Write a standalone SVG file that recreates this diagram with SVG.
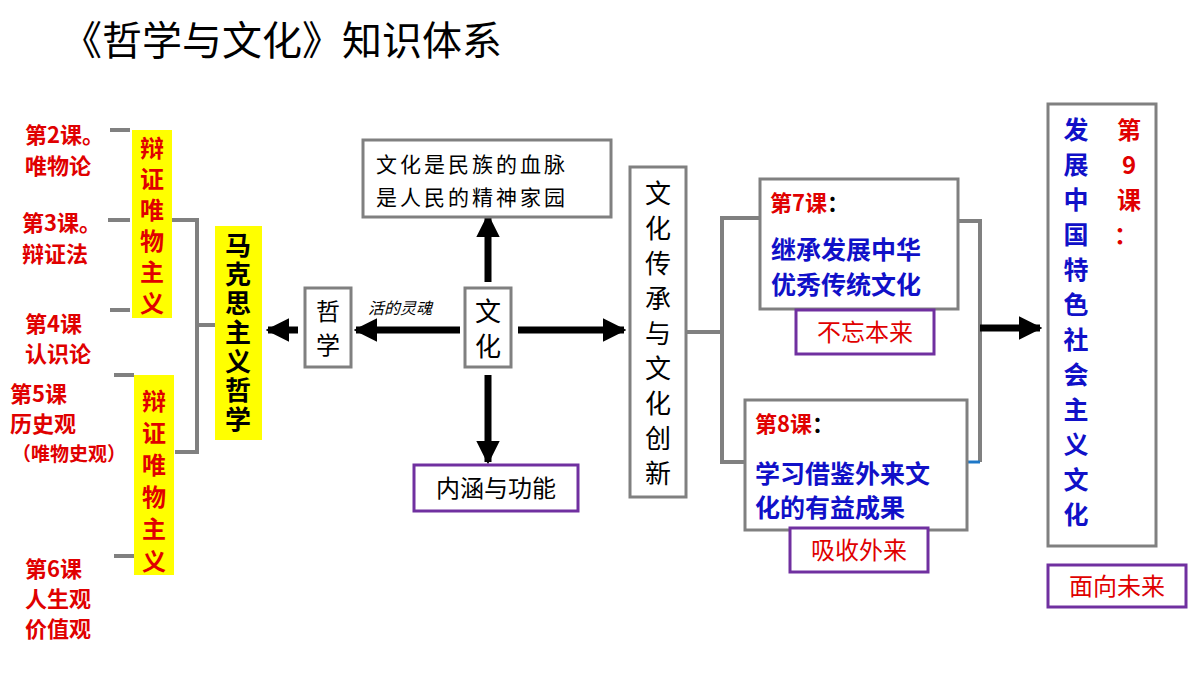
<svg xmlns="http://www.w3.org/2000/svg" width="1200" height="675" viewBox="0 0 1200 675">
<defs>
<style>
.s{font-family:"Noto Sans CJK SC","Liberation Sans",sans-serif}
.r{fill:#e00000;font-weight:bold}
.b{fill:#1010c8;font-weight:bold}
.k{fill:#000}
.box{fill:#fff;stroke:#808080;stroke-width:3}
.pb{fill:#fff;stroke:#7030a0;stroke-width:3}
.y{fill:#ffff00}
.ln{fill:none;stroke:#808080;stroke-width:4}
.ar{stroke:#000;stroke-width:7;fill:none}
</style>
<marker id="ah" viewBox="0 0 10 10" refX="9" refY="5" markerWidth="3.4" markerHeight="3.4" orient="auto"><path d="M0,0L10,5L0,10z" fill="#000"/></marker>
</defs>
<rect width="1200" height="675" fill="#fff"/>
<text x="62" y="55" class="s k" font-size="40">《哲学与文化》知识体系</text>

<g id="connectors">
<path class="ln" d="M110,130H130M108,220H130M110,310H130M114,375H134M114,556H134"/>
<path class="ln" d="M172,220H197V452H175M197,325H217"/>
<path class="ln" d="M686,332H722M760,218H722V462H745"/>
<path class="ln" d="M958,221H980V462"/>
<path d="M965,462H980" stroke="#1e78c8" stroke-width="3"/>
<path class="ar" d="M298,330H268" marker-end="url(#ah)"/>
<path class="ar" d="M460,330H356" marker-end="url(#ah)"/>
<path class="ar" d="M488,282V216" marker-end="url(#ah)"/>
<path class="ar" d="M488,375V462" marker-end="url(#ah)"/>
<path class="ar" d="M518,330H624" marker-end="url(#ah)"/>
<path class="ar" d="M980,328H1040" marker-end="url(#ah)"/>
<text x="368" y="314" font-family="Noto Sans CJK SC,sans-serif" font-size="16" font-style="italic">活的灵魂</text>
</g>

<g id="lessons" class="s r" font-size="22">
<text x="25" y="143">第2课。</text><text x="25" y="174">唯物论</text>
<text x="22" y="231">第3课。</text><text x="22" y="262">辩证法</text>
<text x="25" y="332">第4课</text><text x="25" y="362">认识论</text>
<text x="10" y="402">第5课</text><text x="10" y="432">历史观</text>
<text x="12" y="461" font-size="19">（唯物史观）</text>
<text x="25" y="577">第6课</text><text x="25" y="607">人生观</text><text x="25" y="637">价值观</text>
</g>

<g id="dm1"><rect class="y" x="132" y="130" width="40" height="188"/>
<text class="s r" font-size="24" text-anchor="middle"><tspan x="152" y="157">辩</tspan><tspan x="152" y="188">证</tspan><tspan x="152" y="219">唯</tspan><tspan x="152" y="250">物</tspan><tspan x="152" y="281">主</tspan><tspan x="152" y="312">义</tspan></text></g>
<g id="dm2"><rect class="y" x="134" y="375" width="40" height="200"/>
<text class="s r" font-size="24" text-anchor="middle"><tspan x="154" y="410">辩</tspan><tspan x="154" y="442">证</tspan><tspan x="154" y="474">唯</tspan><tspan x="154" y="506">物</tspan><tspan x="154" y="538">主</tspan><tspan x="154" y="570">义</tspan></text></g>
<g id="mk"><rect class="y" x="215" y="226" width="47" height="214"/>
<text class="s k" font-weight="bold" font-size="26" text-anchor="middle"><tspan x="238" y="255">马</tspan><tspan x="238" y="284">克</tspan><tspan x="238" y="313">思</tspan><tspan x="238" y="342">主</tspan><tspan x="238" y="371">义</tspan><tspan x="238" y="400">哲</tspan><tspan x="238" y="429">学</tspan></text></g>

<g id="zx"><rect class="box" x="305" y="288" width="46" height="79"/>
<text class="s k" font-size="24" text-anchor="middle"><tspan x="328" y="320">哲</tspan><tspan x="328" y="354">学</tspan></text></g>
<g id="wh"><rect class="box" x="465" y="288" width="46" height="79"/>
<text class="s k" font-size="26" text-anchor="middle"><tspan x="488" y="321">文</tspan><tspan x="488" y="356">化</tspan></text></g>
<g id="xm"><rect class="box" x="363" y="140" width="248" height="77"/>
<text class="s k" font-size="21" letter-spacing="3"><tspan x="376" y="172">文化是民族的血脉</tspan><tspan x="376" y="205">是人民的精神家园</tspan></text></g>
<g id="nh"><rect class="pb" x="414" y="465" width="164" height="46"/>
<text class="s k" font-size="24" x="496" y="497" text-anchor="middle">内涵与功能</text></g>
<g id="cc"><rect class="box" x="630" y="167" width="56" height="330"/>
<text class="s k" font-size="26" text-anchor="middle"><tspan x="658" y="203">文</tspan><tspan x="658" y="238">化</tspan><tspan x="658" y="273">传</tspan><tspan x="658" y="308">承</tspan><tspan x="658" y="343">与</tspan><tspan x="658" y="378">文</tspan><tspan x="658" y="413">化</tspan><tspan x="658" y="448">创</tspan><tspan x="658" y="483">新</tspan></text></g>

<g id="k7"><rect class="box" x="760" y="179" width="198" height="130"/>
<text class="s r" font-size="22" x="770" y="211">第7课<tspan fill="#000">：</tspan></text>
<text class="s b" font-size="25"><tspan x="771" y="259">继承发展中华</tspan><tspan x="771" y="294">优秀传统文化</tspan></text></g>
<g id="bw"><rect class="pb" x="796" y="310" width="138" height="44"/>
<text class="s" fill="#e00000" font-size="24" x="865" y="341" text-anchor="middle">不忘本来</text></g>
<g id="k8"><rect class="box" x="745" y="400" width="222" height="130"/>
<text class="s r" font-size="22" x="755" y="432">第8课<tspan fill="#000">：</tspan></text>
<text class="s b" font-size="25"><tspan x="755" y="483">学习借鉴外来文</tspan><tspan x="755" y="517">化的有益成果</tspan></text></g>
<g id="xs"><rect class="pb" x="790" y="528" width="138" height="44"/>
<text class="s" fill="#e00000" font-size="24" x="859" y="559" text-anchor="middle">吸收外来</text></g>
<g id="k9"><rect class="box" x="1048" y="104" width="108" height="442"/>
<text class="s b" font-size="25" text-anchor="middle"><tspan x="1076" y="139">发</tspan><tspan x="1076" y="174">展</tspan><tspan x="1076" y="209">中</tspan><tspan x="1076" y="244">国</tspan><tspan x="1076" y="279">特</tspan><tspan x="1076" y="314">色</tspan><tspan x="1076" y="349">社</tspan><tspan x="1076" y="384">会</tspan><tspan x="1076" y="419">主</tspan><tspan x="1076" y="454">义</tspan><tspan x="1076" y="489">文</tspan><tspan x="1076" y="524">化</tspan></text>
<text class="s r" font-size="24" text-anchor="middle"><tspan x="1129" y="139">第</tspan><tspan x="1129" y="174">9</tspan><tspan x="1129" y="209">课</tspan><tspan x="1126" y="244">：</tspan></text></g>
<g id="mx"><rect class="pb" x="1048" y="565" width="138" height="42"/>
<text class="s" fill="#e00000" font-size="24" x="1117" y="595" text-anchor="middle">面向未来</text></g>
</svg>
